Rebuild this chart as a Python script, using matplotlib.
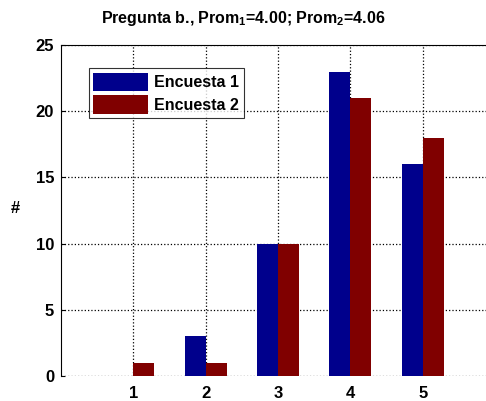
import numpy as np
import matplotlib; matplotlib.use('Agg'); import matplotlib.pyplot as plt

categories = [1, 2, 3, 4, 5]
encuesta1 = [0, 3, 10, 23, 16]
encuesta2 = [1, 1, 10, 21, 18]
labels = ['Encuesta 1', 'Encuesta 2']
title = 'Pregunta b., Prom$_1$=4.00; Prom$_2$=4.06'

plt.rcParams.update({'font.family': 'Liberation Sans', 'font.weight': 'bold', 'font.size': 11,
                     'mathtext.fontset': 'custom', 'mathtext.default': 'bf',
                     'mathtext.bf': 'Liberation Sans:bold', 'mathtext.rm': 'Liberation Sans:bold'})
fig = plt.figure(figsize=(4.86, 4.01), dpi=100)
ax = fig.add_axes([0.1255, 0.0623, 0.893, 0.8254])
x = np.array(categories)
w = 0.29
ax.bar(x - w/2, encuesta1, w, color='#00008c', label=labels[0], zorder=2)
ax.bar(x + w/2, encuesta2, w, color='#800000', label=labels[1], zorder=2)
ax.set_xlim(0, 6); ax.set_ylim(0, 25)
ax.set_xticks(categories); ax.set_yticks([0, 5, 10, 15, 20, 25])
ax.grid(True, ls=':', color='k', lw=0.9, zorder=0)
ax.tick_params(axis='y', direction='in', length=3, labelsize=12, pad=5)
ax.tick_params(axis='x', length=0, labelsize=12, pad=7)
for t in ax.get_xticklabels() + ax.get_yticklabels(): t.set_fontweight('bold')
ax.spines['bottom'].set_visible(False); ax.spines['right'].set_visible(False)
ax.set_ylabel('#', fontweight='bold', fontsize=12, rotation=0, va='center', ha='center')
ax.yaxis.set_label_coords(-0.105, 0.505)
fig.text(0.5, 0.93, title, ha='center', va='bottom', fontweight='bold', fontsize=11.5)
leg = ax.legend(loc='upper left', bbox_to_anchor=(0.045, 0.955), fancybox=False, edgecolor='k',
                handlelength=3.4, handleheight=1.4, borderpad=0.3, labelspacing=0.25, handletextpad=0.4,
                prop={'weight': 'bold', 'size': 11.5})
leg.get_frame().set_linewidth(0.8)
fig.savefig('out.png', dpi=100)
